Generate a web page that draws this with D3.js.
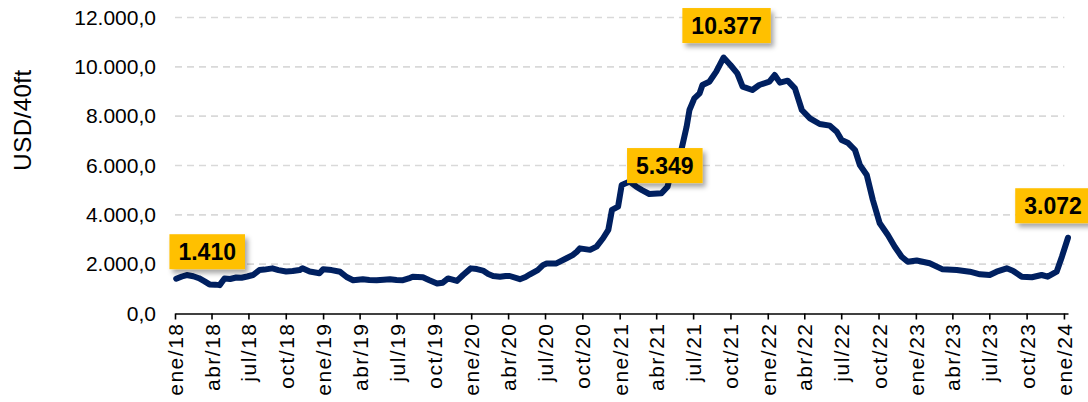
<!DOCTYPE html>
<html>
<head>
<meta charset="utf-8">
<script src="https://cdn.jsdelivr.net/npm/d3@7"></script>
<style>
  body { margin: 0; background: #fff; }
  text { font-family: Arial, "Liberation Sans", sans-serif; }
</style>
</head>
<body>
<div id="chart"></div>
<script>
// weekly freight rate (USD per 40ft container)
var dates = [
  "2018-01-04","2018-01-18","2018-01-30","2018-02-15","2018-03-01","2018-03-15","2018-03-27","2018-04-10",
  "2018-04-21","2018-05-03","2018-05-17","2018-06-01","2018-06-14","2018-06-28","2018-07-12","2018-07-28",
  "2018-08-09","2018-08-29","2018-09-13","2018-10-02","2018-10-18","2018-11-04","2018-11-11","2018-11-29",
  "2018-12-13","2018-12-23","2019-01-01","2019-01-22","2019-02-12","2019-02-28","2019-03-16","2019-04-09",
  "2019-04-25","2019-05-13","2019-05-30","2019-06-15","2019-07-01","2019-07-17","2019-07-31","2019-08-10",
  "2019-08-22","2019-09-04","2019-09-20","2019-10-09","2019-10-23","2019-11-05","2019-11-27","2019-12-12",
  "2019-12-31","2020-01-15","2020-01-30","2020-02-12","2020-02-24","2020-03-12","2020-03-26","2020-04-05",
  "2020-04-30","2020-05-14","2020-05-25","2020-06-13","2020-06-26","2020-07-05","2020-07-29","2020-08-23",
  "2020-09-07","2020-09-17","2020-09-25","2020-10-20","2020-11-05","2020-11-21","2020-12-04","2020-12-13",
  "2020-12-28","2021-01-06","2021-01-26","2021-02-11","2021-02-25","2021-03-15","2021-04-14","2021-04-29",
  "2021-05-09","2021-06-02","2021-06-15","2021-06-22","2021-07-04","2021-07-17","2021-07-24","2021-08-10",
  "2021-08-27","2021-09-14","2021-10-01","2021-10-18","2021-10-31","2021-11-24","2021-12-11","2022-01-05",
  "2022-01-18","2022-01-31","2022-02-19","2022-03-09","2022-03-26","2022-04-15","2022-05-09","2022-06-03",
  "2022-06-20","2022-07-02","2022-07-17","2022-08-04","2022-08-16","2022-09-02","2022-09-17","2022-10-04",
  "2022-10-24","2022-11-10","2022-11-27","2022-12-12","2023-01-03","2023-02-04","2023-03-08","2023-04-12",
  "2023-05-14","2023-06-08","2023-07-02","2023-07-19","2023-08-13","2023-08-28","2023-09-19","2023-10-14",
  "2023-11-07","2023-11-22","2023-12-14","2023-12-27","2024-01-11"
];
var values = [
  1410,1500,1560,1510,1430,1300,1180,1170,
  1150,1420,1400,1460,1450,1500,1560,1760,
  1780,1830,1760,1700,1720,1760,1830,1700,
  1660,1630,1790,1760,1690,1480,1350,1390,
  1360,1350,1370,1390,1360,1350,1420,1490,
  1480,1470,1350,1220,1250,1420,1320,1560,
  1830,1800,1740,1600,1520,1490,1520,1520,
  1390,1480,1590,1760,1960,2030,2030,2240,
  2370,2500,2640,2580,2710,3050,3390,4200,
  4330,5210,5349,5140,5000,4845,4873,5141,
  5818,6628,7573,8250,8724,8927,9264,9398,
  9804,10377,10075,9737,9196,9061,9264,9398,
  9669,9358,9438,9129,8250,7913,7682,7615,
  7372,7034,6926,6628,6020,5615,4601,3656,
  3182,2708,2303,2100,2150,2035,1790,1763,
  1695,1588,1560,1695,1832,1736,1493,1468,
  1560,1493,1695,2303,3072
];

// values that get a yellow callout
var callouts = [1410, 5349, 10377, 3072];

var yTicks = [0, 2000, 4000, 6000, 8000, 10000, 12000];
var monthNames = ["ene","feb","mar","abr","may","jun","jul","ago","sep","oct","nov","dic"];

var width = 1088, height = 402;
var parse = d3.timeParse("%Y-%m-%d");
var data = dates.map(function(d, i) { return {date: parse(d), value: values[i]}; });

var es = d3.formatLocale({decimal: ",", thousands: ".", grouping: [3], currency: ["$", ""]});

var svg = d3.select("#chart")
    .append("svg")
    .attr("width", width)
    .attr("height", height);

var defs = svg.append("defs");
var shadow = defs.append("filter")
    .attr("id", "shadow")
    .attr("x", "-20%").attr("y", "-30%")
    .attr("width", "150%").attr("height", "170%");
shadow.append("feDropShadow")
    .attr("dx", 3).attr("dy", 4)
    .attr("stdDeviation", 2.5)
    .attr("flood-color", "#000")
    .attr("flood-opacity", 0.35);

var x = d3.scaleTime()
    .domain([new Date(2018, 0, 1), new Date(2024, 0, 11)])
    .range([175, 1068]);

var y = d3.scaleLinear()
    .domain([0, 12000])
    .range([313.5, 17.5]);

// gridlines
svg.append("g")
    .selectAll("line")
    .data(yTicks.filter(function(d) { return d > 0; }))
    .enter()
    .append("line")
    .attr("x1", 175)
    .attr("x2", x(new Date(2024, 0, 2)))
    .attr("y1", function(d) { return y(d); })
    .attr("y2", function(d) { return y(d); })
    .attr("stroke", "#d9d9d9")
    .attr("stroke-width", 1.6)
    .attr("stroke-dasharray", "7,5");

// y axis
var yAxis = svg.append("g")
    .attr("transform", "translate(175,0)")
    .call(d3.axisLeft(y).tickValues(yTicks).tickSize(0).tickPadding(19).tickFormat(es.format(",.1f")));
yAxis.select(".domain").remove();
yAxis.selectAll("text")
    .style("font-size", "21px")
    .attr("fill", "#000");

svg.append("text")
    .attr("transform", "translate(31,120) rotate(-90)")
    .attr("text-anchor", "middle")
    .style("font-size", "24px")
    .style("letter-spacing", "0.5px")
    .attr("fill", "#000")
    .text("USD/40ft");

// x axis
var quarterTicks = d3.timeMonth.every(3).range(new Date(2018, 0, 1), new Date(2024, 0, 2));
var xAxis = svg.append("g")
    .attr("transform", "translate(0,313.5)")
    .call(d3.axisBottom(x)
        .tickValues(quarterTicks)
        .tickSize(6)
        .tickSizeOuter(0)
        .tickFormat(function(d) { return monthNames[d.getMonth()] + "/" + d3.timeFormat("%y")(d); }));
xAxis.select(".domain").attr("stroke", "#000").attr("stroke-width", 1.6);
xAxis.selectAll(".tick line").attr("stroke", "#000").attr("stroke-width", 1.6);
xAxis.selectAll("text")
    .style("font-size", "21px")
    .style("letter-spacing", "1.5px")
    .attr("fill", "#000")
    .attr("transform", "rotate(-90)")
    .attr("text-anchor", "end")
    .attr("x", -9)
    .attr("y", 0)
    .attr("dy", "0.36em");

// the line
svg.append("path")
    .datum(data)
    .attr("fill", "none")
    .attr("stroke", "#002060")
    .attr("stroke-width", 6)
    .attr("stroke-linejoin", "round")
    .attr("stroke-linecap", "round")
    .attr("d", d3.line()
        .x(function(d) { return x(d.date); })
        .y(function(d) { return y(d.value); }));

// callouts
var offsets = [[31, -27], [35, -16], [3, -32], [-15, -32]];
callouts.forEach(function(v, i) {
    var p = data.find(function(d) { return d.value === v; });
    var cx = x(p.date) + offsets[i][0];
    var cy = y(p.value) + offsets[i][1];
    var g = svg.append("g");
    var rect = g.append("rect").attr("fill", "#ffc000").attr("filter", "url(#shadow)");
    var t = g.append("text")
        .attr("x", cx)
        .attr("y", cy + 8)
        .attr("text-anchor", "middle")
        .style("font-size", "23px")
        .style("font-weight", "bold")
        .attr("fill", "#000")
        .text(es.format(",d")(v));
    var w = t.node().getComputedTextLength() + 18;
    rect.attr("x", cx - w / 2)
        .attr("y", cy - 17.5)
        .attr("width", w)
        .attr("height", 35);
});
</script>
</body>
</html>
